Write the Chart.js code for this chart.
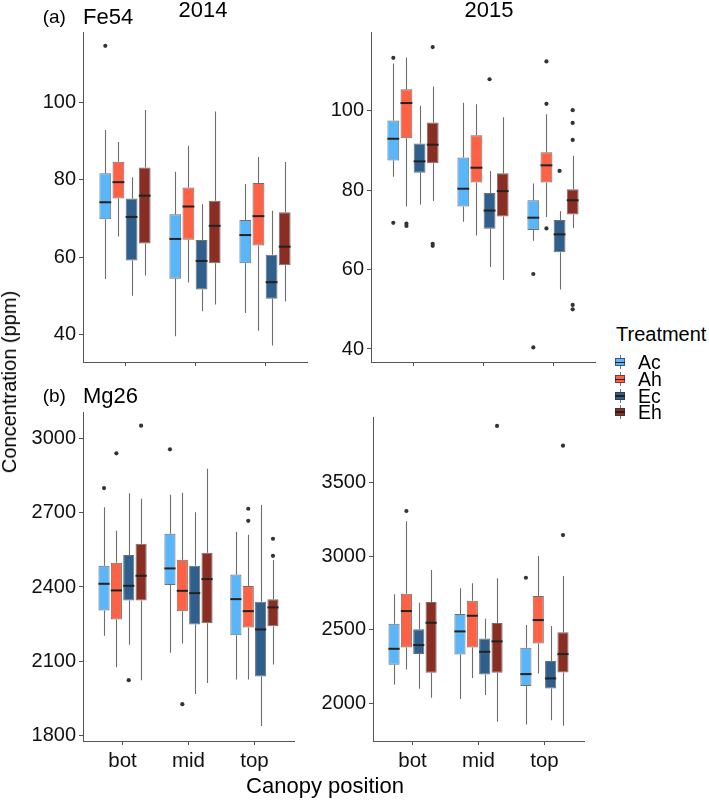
<!DOCTYPE html>
<html><head><meta charset="utf-8">
<script src="https://cdn.jsdelivr.net/npm/chart.js@4"></script>
<style>
body{margin:0;width:709px;height:800px;position:relative;background:#fff;font-family:"Liberation Sans",Arial,Helvetica,sans-serif;overflow:hidden}
canvas{position:absolute}
.t{position:absolute;white-space:nowrap;color:#000}
.key{position:absolute;width:10px;height:14px}
.key .w{position:absolute;left:4.5px;top:0;width:1px;height:14px;background:#777}
.key .b{position:absolute;left:0;top:3px;width:10px;height:8px;box-sizing:border-box;border:1px solid rgba(50,50,50,0.7)}
.key .m{position:absolute;left:0;top:6.3px;width:10px;height:1.5px;background:#222}
</style></head><body>
<canvas id="c1"></canvas><canvas id="c2"></canvas><canvas id="c3"></canvas><canvas id="c4"></canvas>
<div class="t" style="left:42.7px;top:6.5px;font-size:19px;line-height:20px">(a)</div>
<div class="t" style="left:83px;top:5.5px;font-size:22px;line-height:22px">Fe54</div>
<div class="t" style="left:203px;top:9.5px;font-size:22px;line-height:22px;transform:translate(-50%,-50%)">2014</div>
<div class="t" style="left:489px;top:9.5px;font-size:22px;line-height:22px;transform:translate(-50%,-50%)">2015</div>
<div class="t" style="left:42.7px;top:386px;font-size:19px;line-height:20px">(b)</div>
<div class="t" style="left:83px;top:385px;font-size:22px;line-height:22px">Mg26</div>
<div class="t" style="left:9px;top:381.5px;font-size:20px;line-height:20px;transform:translate(-50%,-50%) rotate(-90deg)">Concentration (ppm)</div>
<div class="t" style="left:325px;top:786px;font-size:22px;line-height:22px;transform:translate(-50%,-50%)">Canopy position</div>
<div class="t" style="left:616px;top:323.5px;font-size:20px;line-height:20px">Treatment</div>
<div id="legend"></div>
<script>
// ---------------- data ----------------
const categories = ['bot', 'mid', 'top'];
const treatments = ['Ac', 'Ah', 'Ec', 'Eh'];
// each row: [lower whisker, Q1, median, Q3, upper whisker] for bot, mid, top
const fe2014_Ac = [[54.3,69.8,74.2,81.7,92.9],[39.5,54.4,64.7,71.1,82.1],[45.5,58.4,65.7,69.6,78.9]];
const fe2014_Ah = [[65.3,75.2,79.4,84.7,89.8],[53.4,64.5,73.1,78.0,88.8],[40.9,63.0,70.6,79.2,85.9]];
const fe2014_Ec = [[50.0,59.1,70.4,75.2,80.7],[46.0,51.6,59.0,64.4,73.7],[37.1,49.2,53.5,60.6,72.0]];
const fe2014_Eh = [[55.2,63.5,75.9,83.2,98.1],[47.7,58.4,68.1,74.6,97.7],[48.5,57.9,62.7,71.6,84.6]];
const fe2014_out = [['Ac','bot',114.7]];

const fe2015_Ac = [[83.4,87.5,93.0,97.6,112.0],[72.1,75.9,80.4,88.3,102.1],[67.3,70.0,73.1,77.5,81.7]];
const fe2015_Ah = [[75.9,93.1,102.0,105.5,113.5],[68.6,82.0,85.7,93.9,101.7],[73.3,82.0,86.3,89.6,99.2]];
const fe2015_Ec = [[76.4,84.4,87.3,91.8,101.3],[60.7,70.3,74.9,79.3,84.9],[55.0,64.4,68.9,72.5,74.7]];
const fe2015_Eh = [[77.3,86.8,91.5,97.1,106.2],[57.4,73.4,79.8,84.3,98.4],[70.5,73.9,77.5,80.3,88.7]];
const fe2015_out = [['Ac','bot',113.4],['Ac','bot',71.8],['Ah','bot',71.0],['Ah','bot',71.6],['Eh','bot',116.1],['Eh','bot',66.0],['Eh','bot',66.5],
  ['Ec','mid',108.0],['Ac','top',58.9],['Ac','top',40.4],['Ah','top',112.5],['Ah','top',101.8],['Ah','top',70.4],['Ec','top',84.9],
  ['Eh','top',100.2],['Eh','top',97.0],['Eh','top',92.7],['Eh','top',51.1],['Eh','top',50.0]];

const mg2014_Ac = [[2202.9,2305.4,2412.9,2485.6,2721.4],[2134.3,2407.6,2475.0,2614.8,2772.3],[2026.9,2205.7,2351.0,2450.8,2622.9]];
const mg2014_Ah = [[2076.5,2269.1,2386.2,2497.7,2626.9],[2172.2,2302.6,2384.6,2509.8,2780.3],[2026.9,2236.8,2302.6,2403.6,2610.7]];
const mg2014_Ec = [[2166.6,2345.8,2404.8,2528.8,2777.9],[1968.7,2248.9,2375.3,2485.6,2701.2],[1839.5,2039.0,2228.7,2340.2,2730.7]];
const mg2014_Eh = [[2024.0,2345.8,2445.2,2574.4,2756.1],[2013.1,2254.2,2431.9,2538.1,2877.2],[2087.4,2242.1,2317.6,2351.0,2508.6]];
const mg2014_out = [['Ac','bot',2799.3],['Ah','bot',2939.4],['Ec','bot',2024.0],['Eh','bot',3050.9],['Ac','mid',2955.6],['Ah','mid',1927.1],
  ['Ah','top',2715.7],['Ah','top',2667.0],['Eh','top',2594.6],['Eh','top',2525.9]];

const mg2015_Ac = [[2128.5,2261.9,2370.7,2540.8,2740.8],[2028.5,2332.6,2488.9,2606.8,2781.6],[1856.4,2116.9,2198.6,2377.5,2531.9]];
const mg2015_Ah = [[2230.6,2380.2,2627.2,2745.0,3237.4],[2171.4,2380.2,2595.2,2697.3,2815.6],[2203.3,2407.4,2565.9,2729.2,3001.3]];
const mg2015_Ec = [[2098.6,2334.6,2395.9,2502.7,2683.6],[2055.7,2196.5,2350.3,2441.4,2574.8],[1885.6,2101.3,2169.3,2287.0,2525.1]];
const mg2015_Eh = [[2037.3,2207.4,2547.6,2688.4,2906.1],[1874.0,2207.4,2421.0,2545.5,2849.6],[1847.0,2210.1,2334.6,2482.3,2865.3]];
const mg2015_out = [['Ah','bot',3307.5],['Eh','mid',3885.7],['Ac','top',2853.7],['Eh','top',3751.7],['Eh','top',3144.2]];

const feTicks = [40, 60, 80, 100];
const mg2014Ticks = [1800, 2100, 2400, 2700, 3000];
const mg2015Ticks = [2000, 2500, 3000, 3500];

// ---------------- styles ----------------
const fills = ['#5AB6FA', '#FF6145', '#2F5F8D', '#8A2E24'];
const FONT = '"Liberation Sans", Arial, Helvetica, sans-serif';

// legend
const leg = document.getElementById('legend');
const legY = [362.3, 379.3, 395.8, 412];
treatments.forEach((t, i) => {
  const k = document.createElement('div');
  k.className = 'key';
  k.style.left = '615px'; k.style.top = (legY[i] - 7) + 'px';
  k.innerHTML = '<div class="w"></div><div class="b" style="background:' + fills[i] + '"></div><div class="m"></div>';
  leg.appendChild(k);
  const d = document.createElement('div');
  d.className = 't';
  d.style.cssText = 'left:638px;top:' + (legY[i] - 10) + 'px;font-size:19.5px;line-height:20px';
  d.textContent = t;
  leg.appendChild(d);
});

const boxParts = {
  id: 'boxParts',
  beforeDatasetsDraw(chart) {
    const ctx = chart.ctx, y = chart.scales.y;
    ctx.save();
    ctx.strokeStyle = '#6e6e6e'; ctx.lineWidth = 1.1;
    chart.data.datasets.forEach((ds, i) => {
      chart.getDatasetMeta(i).data.forEach((el, j) => {
        const s = ds.stats[j];
        const x = Math.round(el.x) + 0.5;
        ctx.beginPath();
        ctx.moveTo(x, y.getPixelForValue(s[4])); ctx.lineTo(x, y.getPixelForValue(s[3]));
        ctx.moveTo(x, y.getPixelForValue(s[1])); ctx.lineTo(x, y.getPixelForValue(s[0]));
        ctx.stroke();
      });
    });
    ctx.restore();
  },
  afterDatasetsDraw(chart) {
    const ctx = chart.ctx, y = chart.scales.y;
    ctx.save();
    ctx.strokeStyle = '#222'; ctx.lineWidth = 2;
    chart.data.datasets.forEach((ds, i) => {
      chart.getDatasetMeta(i).data.forEach((el, j) => {
        const s = ds.stats[j];
        const py = y.getPixelForValue(s[2]);
        ctx.beginPath();
        ctx.moveTo(el.x - el.width / 2, py); ctx.lineTo(el.x + el.width / 2, py);
        ctx.stroke();
      });
    });
    ctx.fillStyle = '#333';
    (chart.options.plugins.boxParts.outliers || []).forEach(o => {
      const i = treatments.indexOf(o[0]), j = categories.indexOf(o[1]);
      const el = chart.getDatasetMeta(i).data[j];
      ctx.beginPath();
      ctx.arc(el.x, y.getPixelForValue(o[2]), 2.1, 0, Math.PI * 2);
      ctx.fill();
    });
    ctx.restore();
  }
};

function panel(id, area, series, outliers, yMin, yMax, yTicks, showX) {
  const leftRoom = 70, padTop = 20, padRight = 12, xH = showX ? 36 : 18;
  const cv = document.getElementById(id);
  const W = area.r - area.l + leftRoom + padRight;
  const H = area.b - area.t + padTop + xH;
  cv.width = W; cv.height = H;
  cv.style.left = (area.l - leftRoom) + 'px';
  cv.style.top = (area.t - padTop) + 'px';
  cv.style.width = W + 'px'; cv.style.height = H + 'px';
  new Chart(cv, {
    type: 'bar',
    data: {
      datasets: treatments.map((t, i) => ({
        label: t,
        stats: series[i],
        data: categories.map((c, j) => ({ x: j + 1, y: [series[i][j][1], series[i][j][3]] })),
        backgroundColor: fills[i],
        borderColor: 'rgba(50,50,50,0.7)',
        borderWidth: 1,
        borderSkipped: false,
        categoryPercentage: 0.75,
        barPercentage: 0.9
      }))
    },
    options: {
      responsive: false, animation: false, devicePixelRatio: 1,
      layout: { padding: { left: 0, right: padRight, top: padTop, bottom: 0 } },
      plugins: { legend: { display: false }, tooltip: { enabled: false }, boxParts: { outliers } },
      scales: {
        x: {
          type: 'linear', min: 0.4, max: 3.6, offset: false,
          afterBuildTicks: s => { s.ticks = categories.map((c, j) => ({ value: j + 1 })); },
          afterFit: s => { s.height = xH; },
          ticks: { autoSkip: false, maxRotation: 0, padding: 4, color: '#111',
                   font: { family: FONT, size: 20.5 },
                   callback: (v, idx) => showX ? categories[idx] : '' },
          grid: { display: true, offset: false, drawOnChartArea: false, drawTicks: true, tickLength: 4, color: '#555', lineWidth: 1 },
          border: { display: true, color: '#555', width: 1 }
        },
        y: {
          type: 'linear', min: yMin, max: yMax, beginAtZero: false,
          afterBuildTicks: s => { s.ticks = yTicks.map(v => ({ value: v })); },
          afterFit: s => { s.width = leftRoom; },
          ticks: { padding: 3, color: '#111', font: { family: FONT, size: 20 }, callback: v => String(v) },
          grid: { display: true, drawOnChartArea: false, drawTicks: true, tickLength: 4, color: '#555', lineWidth: 1 },
          border: { display: true, color: '#555', width: 1 }
        }
      }
    },
    plugins: [boxParts]
  });
}

panel('c1', { l: 83, r: 307, t: 32, b: 362 }, [fe2014_Ac, fe2014_Ah, fe2014_Ec, fe2014_Eh], fe2014_out, 32.83, 118.29, feTicks, false);
panel('c2', { l: 371, r: 595, t: 32, b: 362 }, [fe2015_Ac, fe2015_Ah, fe2015_Ec, fe2015_Eh], fe2015_out, 36.72, 119.91, feTicks, false);
panel('c3', { l: 83, r: 294, t: 412, b: 741 }, [mg2014_Ac, mg2014_Ah, mg2014_Ec, mg2014_Eh], mg2014_out, 1778.6, 3106.1, mg2014Ticks, true);
panel('c4', { l: 373, r: 584, t: 417, b: 741 }, [mg2015_Ac, mg2015_Ah, mg2015_Ec, mg2015_Eh], mg2015_out, 1743.7, 3946.7, mg2015Ticks, true);
</script>
</body></html>
